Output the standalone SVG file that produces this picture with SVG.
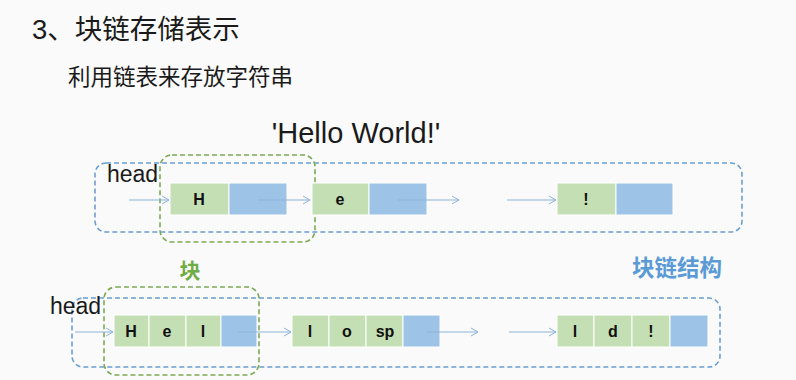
<svg xmlns="http://www.w3.org/2000/svg" width="796" height="380" viewBox="0 0 796 380">
  <defs>
    <marker id="arrow" markerWidth="10" markerHeight="10" refX="8" refY="5" orient="auto" markerUnits="userSpaceOnUse">
      <path d="M1,1 L8,5 L1,9" fill="none" stroke="#8db3da" stroke-width="1"/>
    </marker>
    <style>
      .cjk { font-family: "Liberation Sans", "Noto Sans CJK SC", sans-serif; fill: #1a1a1a; }
      .latin { font-family: "Liberation Sans", Arial, sans-serif; fill: #1a1a1a; }
      .data { fill: #c5dfb4; stroke: #ffffff; stroke-width: 1; }
      .ptr { fill: #9dc3e6; stroke: #ffffff; stroke-width: 1; }
      .ch { font-family: "Liberation Sans", Arial, sans-serif; font-weight: bold; font-size: 16px; fill: #111; text-anchor: middle; }
      .frame { fill: none; stroke: #6a9fd0; stroke-width: 1.6; stroke-dasharray: 5 3; }
      .block { fill: none; stroke: #7aaa55; stroke-width: 1.6; stroke-dasharray: 5 3; }
      .link { stroke: #8db3da; stroke-width: 1; fill: none; marker-end: url(#arrow); }
    </style>
  </defs>
  <rect width="796" height="380" fill="#fafafa"/>

  <!-- headings -->
  <text class="cjk" x="32" y="39" font-size="27.5">3、块链存储表示</text>
  <text class="cjk" x="68" y="85" font-size="22.5">利用链表来存放字符串</text>
  <text class="latin" x="356" y="143" font-size="29" text-anchor="middle">'Hello World!'</text>

  <!-- one character per node -->
  <g id="frame-top"><rect class="frame" x="95" y="163" width="647" height="69" rx="11"/></g>
  <g id="block-top"><rect class="block" x="160" y="155" width="155" height="87" rx="12"/></g>
  <g id="head-top"><text class="latin" x="107" y="182" font-size="23">head</text></g>

  <g id="node-H">
    <rect class="data" x="170" y="183" width="59" height="32"/>
    <rect class="ptr" x="229" y="183" width="58" height="32"/>
    <text class="ch" x="199" y="205">H</text>
  </g>
  <g id="node-e">
    <rect class="data" x="312" y="183" width="57" height="32"/>
    <rect class="ptr" x="369" y="183" width="58" height="32"/>
    <text class="ch" x="340" y="205">e</text>
  </g>
  <g id="node-excl">
    <rect class="data" x="557" y="183" width="59" height="32"/>
    <rect class="ptr" x="616" y="183" width="57" height="32"/>
    <text class="ch" x="586" y="205">!</text>
  </g>

  <!-- labels -->
  <text class="cjk" x="190" y="278" font-size="21" font-weight="bold" text-anchor="middle" style="fill:#70ad47">块</text>
  <text class="cjk" x="632" y="276" font-size="22.5" font-weight="bold" style="fill:#5b9bd5">块链结构</text>

  <!-- three characters per node -->
  <g id="frame-bottom"><rect class="frame" x="72" y="298" width="648" height="69" rx="11"/></g>
  <g id="block-bottom"><rect class="block" x="104" y="287" width="155" height="88" rx="12"/></g>
  <g id="head-bottom"><text class="latin" x="50" y="314" font-size="23">head</text></g>

  <g id="node-Hel">
    <rect class="data" x="114" y="315" width="35" height="32"/>
    <rect class="data" x="149" y="315" width="37" height="32"/>
    <rect class="data" x="186" y="315" width="35" height="32"/>
    <rect class="ptr" x="221" y="315" width="36" height="32"/>
    <text class="ch" x="131" y="337">H</text>
    <text class="ch" x="167" y="337">e</text>
    <text class="ch" x="203" y="337">l</text>
  </g>
  <g id="node-losp">
    <rect class="data" x="292" y="315" width="37" height="32"/>
    <rect class="data" x="329" y="315" width="37" height="32"/>
    <rect class="data" x="366" y="315" width="37" height="32"/>
    <rect class="ptr" x="403" y="315" width="37" height="32"/>
    <text class="ch" x="310" y="337">l</text>
    <text class="ch" x="347" y="337">o</text>
    <text class="ch" x="385" y="337">sp</text>
  </g>
  <g id="node-ld">
    <rect class="data" x="557" y="315" width="37" height="32"/>
    <rect class="data" x="594" y="315" width="38" height="32"/>
    <rect class="data" x="632" y="315" width="38" height="32"/>
    <rect class="ptr" x="670" y="315" width="38" height="32"/>
    <text class="ch" x="575" y="337">l</text>
    <text class="ch" x="613" y="337">d</text>
    <text class="ch" x="651" y="337">!</text>
  </g>

  <!-- connectors -->
  <g id="links">
    <line class="link" x1="129" y1="200" x2="169" y2="200"/>
    <line class="link" x1="258" y1="200" x2="310" y2="200"/>
    <line class="link" x1="398" y1="200" x2="459" y2="200"/>
    <line class="link" x1="507" y1="200" x2="556" y2="200"/>
    <line class="link" x1="75" y1="332" x2="113" y2="332"/>
    <line class="link" x1="238" y1="332" x2="291" y2="332"/>
    <line class="link" x1="427" y1="332" x2="478" y2="332"/>
    <line class="link" x1="509" y1="332" x2="556" y2="332"/>
  </g>
</svg>
